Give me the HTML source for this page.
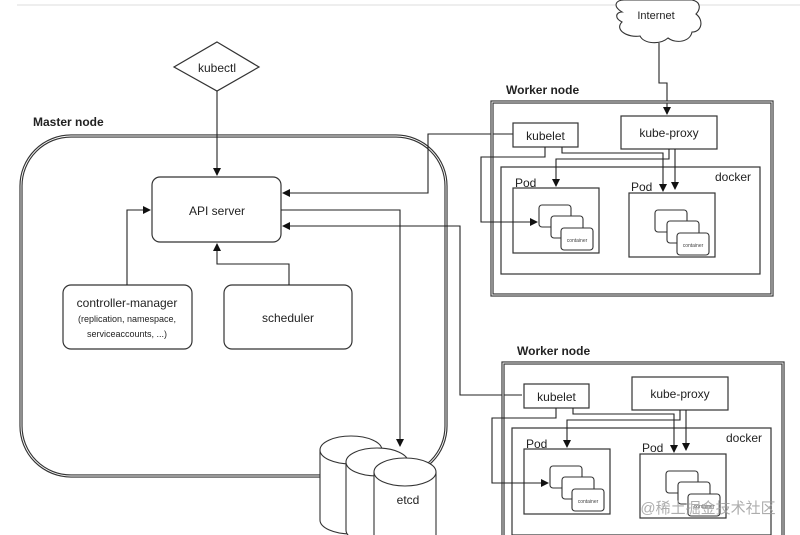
<!DOCTYPE html>
<html><head><meta charset="utf-8"><style>
html,body{margin:0;padding:0;background:#fff;}
svg{display:block;font-family:"Liberation Sans","Noto Sans CJK SC",sans-serif;}
</style></head><body>
<svg width="800" height="535" viewBox="0 0 800 535" xmlns="http://www.w3.org/2000/svg">
<defs>
<marker id="a" markerWidth="8" markerHeight="8" refX="7" refY="4" orient="auto" markerUnits="userSpaceOnUse"><path d="M0,0 L8,4 L0,8 Z" fill="#111"/></marker>
<g id="worker">
  <rect x="492" y="102" width="280" height="193" fill="none" stroke="#333" stroke-width="3.2"/>
  <rect x="492" y="102" width="280" height="193" fill="none" stroke="#fff" stroke-width="0.9"/>
  <text x="506" y="94" font-size="12" font-weight="bold" fill="#222">Worker node</text>
  <rect x="513" y="123" width="65" height="24" fill="#fff" stroke="#333" stroke-width="1.2"/>
  <text x="545.5" y="140" font-size="12" text-anchor="middle" fill="#222">kubelet</text>
  <rect x="621" y="116" width="96" height="33" fill="#fff" stroke="#333" stroke-width="1.2"/>
  <text x="669" y="137" font-size="12" text-anchor="middle" fill="#222">kube-proxy</text>
  <rect x="501" y="167" width="259" height="107" fill="none" stroke="#333" stroke-width="1.2"/>
  <text x="715" y="181" font-size="12" fill="#222">docker</text>
  <text x="515" y="187" font-size="12" fill="#222">Pod</text>
  <rect x="513" y="188" width="86" height="65" fill="none" stroke="#333" stroke-width="1.2"/>
  <text x="631" y="191" font-size="12" fill="#222">Pod</text>
  <rect x="629" y="193" width="86" height="64" fill="none" stroke="#333" stroke-width="1.2"/>
  <g fill="#fff" stroke="#333" stroke-width="1.1">
    <rect x="539" y="205" width="32" height="22" rx="3"/>
    <rect x="551" y="216" width="32" height="22" rx="3"/>
    <rect x="561" y="228" width="32" height="22" rx="3"/>
    <rect x="655" y="210" width="32" height="22" rx="3"/>
    <rect x="667" y="221" width="32" height="22" rx="3"/>
    <rect x="677" y="233" width="32" height="22" rx="3"/>
  </g>
  <text x="577" y="242" font-size="5" text-anchor="middle" fill="#444">container</text>
  <text x="693" y="247" font-size="5" text-anchor="middle" fill="#444">container</text>
  <g fill="none" stroke="#222" stroke-width="1.1">
    <path d="M545,147 V157 H481 V222 H537" marker-end="url(#a)"/>
    <path d="M562,147 V153 H663 V191" marker-end="url(#a)"/>
    <path d="M669,149 V159 H556 V186" marker-end="url(#a)"/>
    <path d="M675,149 V189" marker-end="url(#a)"/>
  </g>
</g>
</defs>
<line x1="17" y1="5" x2="800" y2="5" stroke="#ddd" stroke-width="1"/>
<!-- master -->
<rect x="21" y="136" width="425" height="340" rx="50" fill="none" stroke="#333" stroke-width="3.2"/>
<rect x="21" y="136" width="425" height="340" rx="50" fill="none" stroke="#fff" stroke-width="0.9"/>
<text x="33" y="126" font-size="12" font-weight="bold" fill="#222">Master node</text>
<!-- kubectl -->
<polygon points="217,42 259,67 217,91 174,67" fill="#fff" stroke="#333" stroke-width="1.2"/>
<text x="217" y="72" font-size="12" text-anchor="middle" fill="#222">kubectl</text>
<rect x="152" y="177" width="129" height="65" rx="8" fill="#fff" stroke="#333" stroke-width="1.2"/>
<text x="217" y="215" font-size="12" text-anchor="middle" fill="#222">API server</text>
<rect x="63" y="285" width="129" height="64" rx="8" fill="#fff" stroke="#333" stroke-width="1.2"/>
<text x="127" y="307" font-size="12" text-anchor="middle" fill="#222">controller-manager</text>
<text x="127" y="322" font-size="9" text-anchor="middle" fill="#222">(replication, namespace,</text>
<text x="127" y="337" font-size="9" text-anchor="middle" fill="#222">serviceaccounts, ...)</text>
<rect x="224" y="285" width="128" height="64" rx="8" fill="#fff" stroke="#333" stroke-width="1.2"/>
<text x="288" y="322" font-size="12" text-anchor="middle" fill="#222">scheduler</text>
<g fill="none" stroke="#222" stroke-width="1.1">
  <path d="M217,91 V175" marker-end="url(#a)"/>
  <path d="M127,285 V210 H150" marker-end="url(#a)"/>
  <path d="M289,285 V264 H217 V244" marker-end="url(#a)"/>
  <path d="M513,134 H428 V193 H283" marker-end="url(#a)"/>
  <path d="M281,210 H400 V446" marker-end="url(#a)"/>
  <path d="M522,395 H460 V226 H283" marker-end="url(#a)"/>
  <path d="M659,43 V83 H667 V114" marker-end="url(#a)"/>
</g>
<!-- cloud -->
<path d="M622,12 C612,6 616,0 624,0 L692,0 C702,2 700,10 696,14 C704,20 702,32 692,32 C690,42 676,44 668,38 C660,45 644,44 640,36 C628,38 614,30 622,22 C614,18 616,12 622,12 Z" fill="#fff" stroke="#333" stroke-width="1.1"/>
<text x="656" y="19" font-size="11" text-anchor="middle" fill="#222">Internet</text>
<!-- etcd -->
<g fill="#fff" stroke="#333" stroke-width="1.1">
  <path d="M320,450 V520 A31,14 0 0 0 382,520 V450"/>
  <ellipse cx="351" cy="450" rx="31" ry="14"/>
  <path d="M346,462 V530 A31,14 0 0 0 408,530 V462"/>
  <ellipse cx="377" cy="462" rx="31" ry="14"/>
  <path d="M374,472 V540 A31,14 0 0 0 436,540 V472"/>
  <ellipse cx="405" cy="472" rx="31" ry="14"/>
</g>
<text x="408" y="504" font-size="12" text-anchor="middle" fill="#222">etcd</text>
<!-- workers -->
<use href="#worker"/>
<use href="#worker" transform="translate(11,261)"/>
<text x="708" y="513" font-size="15" text-anchor="middle" fill="#999" opacity="0.8">@稀土掘金技术社区</text>
</svg>
</body></html>
